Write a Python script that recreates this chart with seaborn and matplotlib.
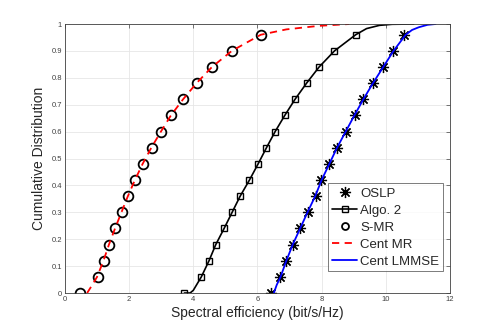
import matplotlib
matplotlib.use("Agg")
import matplotlib.pyplot as plt
import seaborn as sns
import numpy as np
from matplotlib.lines import Line2D

# ---- data ----
marker_cdf = [0.00, 0.06, 0.12, 0.18, 0.24, 0.30, 0.36, 0.42, 0.48,
              0.54, 0.60, 0.66, 0.72, 0.78, 0.84, 0.90, 0.96]
oslp_x = [6.43, 6.70, 6.88, 7.10, 7.33, 7.57, 7.81, 7.99, 8.24,
          8.48, 8.76, 9.03, 9.30, 9.60, 9.92, 10.24, 10.58]
algo2_x = [3.72, 4.25, 4.49, 4.70, 4.96, 5.21, 5.46, 5.75, 6.02,
           6.28, 6.55, 6.85, 7.17, 7.53, 7.92, 8.40, 9.06]
smr_x = [0.475, 1.03, 1.23, 1.385, 1.57, 1.77, 1.97, 2.19, 2.42,
         2.70, 3.00, 3.30, 3.69, 4.11, 4.58, 5.22, 6.10]

algo2_line_x = [3.72, 3.90, 4.00, 4.10, 4.25, 4.49, 4.70, 4.96, 5.21, 5.46, 5.75,
                6.02, 6.28, 6.55, 6.85, 7.17, 7.53, 7.92, 8.40, 9.06, 9.40,
                9.80, 10.20, 10.87]
algo2_line_y = [0.00, 0.00, 0.01, 0.03, 0.06, 0.12, 0.18, 0.24, 0.30, 0.36, 0.42,
                0.48, 0.54, 0.60, 0.66, 0.72, 0.78, 0.84, 0.90, 0.96, 0.983,
                0.995, 0.999, 1.00]

centmr_x = [0.69, 0.85, 1.00, 1.20, 1.37, 1.56, 1.76, 1.96, 2.18, 2.42, 2.69,
            2.99, 3.30, 3.68, 4.10, 4.58, 5.20, 6.10, 6.90, 7.90, 8.86]
centmr_y = [0.00, 0.03, 0.06, 0.12, 0.18, 0.24, 0.30, 0.36, 0.42, 0.48, 0.54,
            0.60, 0.66, 0.72, 0.78, 0.84, 0.90, 0.96, 0.980, 0.993, 1.00]

lmmse_x = [6.51, 6.60, 6.72, 6.90, 7.10, 7.33, 7.56, 7.80, 8.00, 8.24, 8.48,
           8.75, 9.02, 9.30, 9.60, 9.92, 10.24, 10.62, 10.82, 11.03, 11.30, 11.55]
lmmse_y = [0.00, 0.03, 0.06, 0.12, 0.18, 0.24, 0.30, 0.36, 0.42, 0.48, 0.54,
           0.60, 0.66, 0.72, 0.78, 0.84, 0.90, 0.96, 0.978, 0.988, 0.997, 1.00]

x_ticks = [0, 2, 4, 6, 8, 10, 12]
y_ticks = [0, 0.1, 0.2, 0.3, 0.4, 0.5, 0.6, 0.7, 0.8, 0.9, 1]
y_tick_labels = ["0", "0.1", "0.2", "0.3", "0.4", "0.5", "0.6", "0.7", "0.8", "0.9", "1"]

# ---- style ----
sns.set_style("white")
plt.rcParams["font.family"] = ["Liberation Sans", "DejaVu Sans"]

fig = plt.figure(figsize=(4.98, 3.29), dpi=100)
ax = fig.add_axes([0.1305, 0.1094, 0.773, 0.8176])

ast = (8, 2, 0)
sns.lineplot(x=oslp_x, y=marker_cdf, ax=ax, sort=False, estimator=None,
             linestyle="none", marker=ast, markersize=8, color="black",
             markeredgecolor="black", markeredgewidth=0.9)
sns.lineplot(x=algo2_line_x, y=algo2_line_y, ax=ax, sort=False, estimator=None,
             color="black", linewidth=1.2)
sns.lineplot(x=algo2_x, y=marker_cdf, ax=ax, sort=False, estimator=None,
             linestyle="none", marker="s", markersize=5, markerfacecolor="none",
             markeredgecolor="black", markeredgewidth=1.0, color="black")
sns.lineplot(x=smr_x, y=marker_cdf, ax=ax, sort=False, estimator=None,
             linestyle="none", marker="o", markersize=7, markerfacecolor="none",
             markeredgecolor="black", markeredgewidth=1.3, color="black")
sns.lineplot(x=centmr_x, y=centmr_y, ax=ax, sort=False, estimator=None,
             color="red", linewidth=1.3, linestyle=(0, (4, 3)))
sns.lineplot(x=lmmse_x, y=lmmse_y, ax=ax, sort=False, estimator=None,
             color="blue", linewidth=1.3)

ax.set_xlim(0, 12)
ax.set_ylim(0, 1)
ax.set_xticks(x_ticks)
ax.set_xticklabels([str(t) for t in x_ticks])
ax.set_yticks(y_ticks)
ax.set_yticklabels(y_tick_labels)
ax.tick_params(axis="both", labelsize=5.5, colors="#404040", direction="in",
               length=3, width=0.5, top=True, right=True, pad=2)
ax.grid(True, color="#e6e6e6", linewidth=0.6)
for s in ax.spines.values():
    s.set_color("#404040")
    s.set_linewidth(0.6)
ax.set_xlabel("Spectral efficiency (bit/s/Hz)", fontsize=10, color="#262626", labelpad=2)
ax.set_ylabel("Cumulative Distribution", fontsize=10, color="#262626", labelpad=4)

handles = [
    Line2D([], [], linestyle="none", marker=ast, markersize=8, color="black",
           markeredgecolor="black", markeredgewidth=0.9),
    Line2D([], [], color="black", linewidth=1.2, marker="s", markersize=5,
           markerfacecolor="none", markeredgecolor="black", markeredgewidth=1.0),
    Line2D([], [], linestyle="none", marker="o", markersize=5, markerfacecolor="none",
           markeredgecolor="black", markeredgewidth=1.3),
    Line2D([], [], color="red", linewidth=1.3, linestyle=(0, (4, 3))),
    Line2D([], [], color="blue", linewidth=1.3),
]
labels = ["OSLP", "Algo. 2", "S-MR", "Cent MR", "Cent LMMSE"]
leg = ax.legend(handles, labels, loc="lower right", bbox_to_anchor=(0.982, 0.08),
                fontsize=9.5, frameon=True, fancybox=False, borderpad=0.3,
                handlelength=1.9, handletextpad=0.2, labelspacing=0.36,
                borderaxespad=0.0)
leg.get_frame().set_edgecolor("#404040")
leg.get_frame().set_linewidth(0.6)

fig.savefig("out.png", dpi=100)
